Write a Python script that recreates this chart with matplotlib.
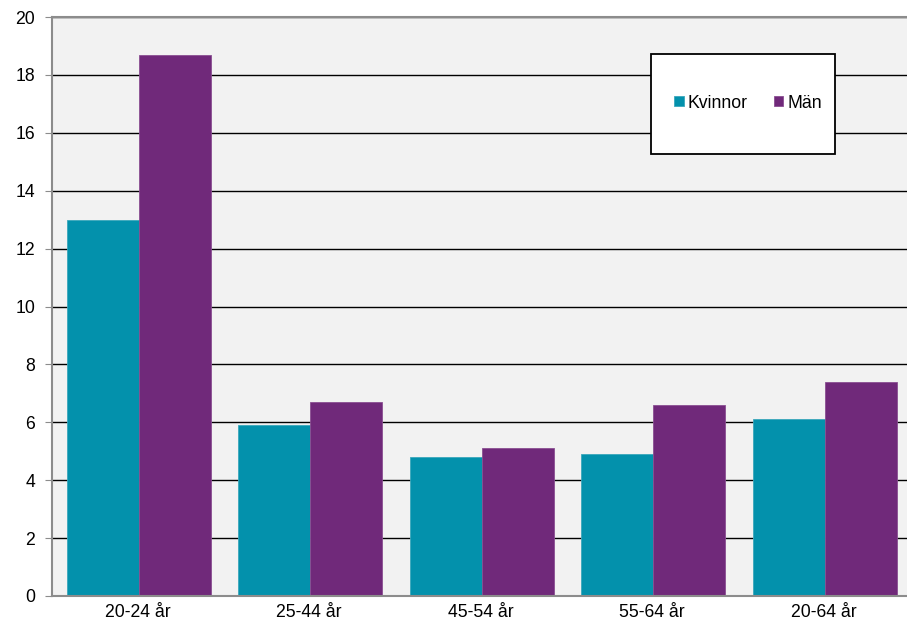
import matplotlib.pyplot as plt
import numpy as np
from matplotlib.patches import Rectangle

plt.rcParams['font.family'] = ['Liberation Sans', 'DejaVu Sans']

categories = ["20-24 år", "25-44 år", "45-54 år", "55-64 år", "20-64 år"]
kvinnor = [13.0, 5.9, 4.8, 4.9, 6.1]
man = [18.7, 6.7, 5.1, 6.6, 7.4]

fig = plt.figure(figsize=(9.07, 6.24), dpi=100)
# plot area runs a bit past the right edge of the image, as in the original
ax = fig.add_axes([52/907, 1-596/624, 857.5/907, 579/624])
ax.set_facecolor("#F2F2F2")

x = np.arange(len(categories))
w = 0.42
ax.bar(x + 0.005 - w/2, kvinnor, w, color="#0391AC", label="Kvinnor", zorder=3,
       edgecolor="#3AA7BC", linewidth=0.6)
ax.bar(x + 0.005 + w/2, man, w, color="#70297A", label="Män", zorder=3,
       edgecolor="#8A4E92", linewidth=0.6)

ax.set_xlim(-0.5, 4.5)
ax.set_ylim(0, 20)
ax.set_yticks(range(0, 21, 2))
ax.set_xticks(x)
ax.set_xticklabels(categories)
ax.yaxis.grid(True, color="black", linewidth=1)
ax.set_axisbelow(True)
ax.spines["right"].set_visible(False)
for s in ["left", "bottom", "top"]:
    ax.spines[s].set_color("#8C8C8C")
    ax.spines[s].set_linewidth(1.5)
    ax.spines[s].set_zorder(4)
ax.tick_params(axis="y", length=5, color="#8C8C8C", labelsize=12.7, pad=7)
ax.tick_params(axis="x", length=0, labelsize=12.7, pad=6)

box = Rectangle((651/907, 1-154/624), 184/907, 100/624, transform=fig.transFigure,
                facecolor="white", edgecolor="black", linewidth=1.3, zorder=4)
ax.add_patch(box)
leg = ax.legend(loc="center left", bbox_to_anchor=(665/907, 1-103/624),
                bbox_transform=fig.transFigure, ncol=2, frameon=False, borderpad=0,
                fontsize=12.7, handlelength=0.55, handleheight=0.45, handletextpad=0.25,
                columnspacing=1.45)
leg.set_zorder(5)

fig.savefig("out.png", dpi=100)
